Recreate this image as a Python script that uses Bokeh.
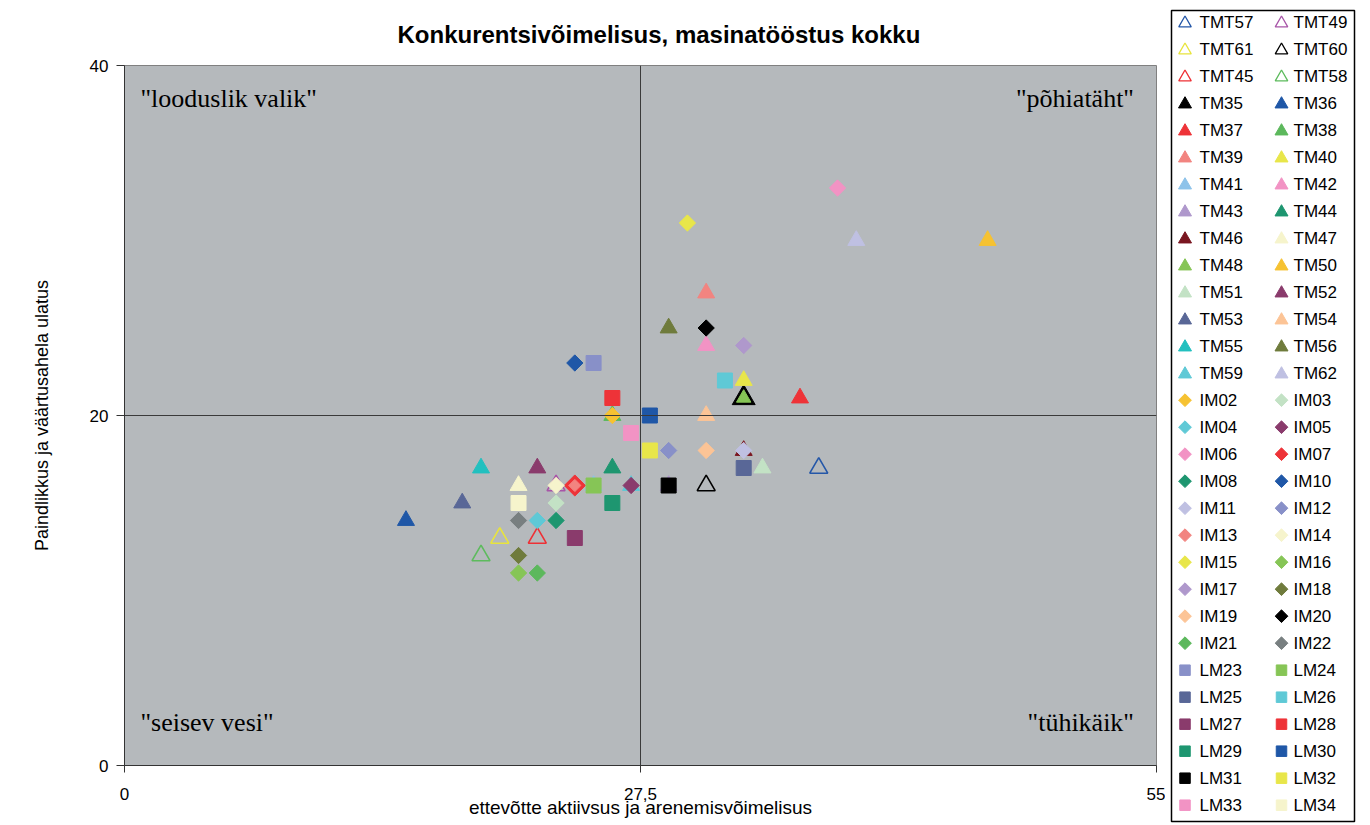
import math
import numpy as np
from bokeh.plotting import figure
from bokeh.layouts import row
from bokeh.models import Range1d, FixedTicker, Span, Label
from bokeh.core.properties import value
from bokeh.embed import file_html
from bokeh.resources import INLINE

# ---------------- data ----------------
title_text = "Konkurentsivõimelisus, masinatööstus kokku"
x_title = "ettevõtte aktiivsus ja arenemisvõimelisus"
y_title = "Paindlikkus ja väärtusahela ulatus"

series_names = ["TMT57", "TMT49", "TMT61", "TMT60", "TMT45", "TMT58",
                "TM35", "TM36", "TM37", "TM38", "TM39", "TM40", "TM41", "TM42", "TM43", "TM44",
                "TM46", "TM47", "TM48", "TM50", "TM51", "TM52", "TM53", "TM54", "TM55", "TM56",
                "TM59", "TM62",
                "IM02", "IM03", "IM04", "IM05", "IM06", "IM07", "IM08", "IM10", "IM11", "IM12",
                "IM13", "IM14", "IM15", "IM16", "IM17", "IM18", "IM19", "IM20", "IM21", "IM22",
                "LM23", "LM24", "LM25", "LM26", "LM27", "LM28", "LM29", "LM30", "LM31", "LM32",
                "LM33", "LM34"]

x_values = [37, 23, 20, 31, 22, 19,
            33, 15, 36, 26, 31, 33, 25, 31, 29, 26,
            33, 21, 33, 46, 34, 22, 18, 31, 19, 29,
            27, 39,
            26, 23, 22, 27, 38, 24, 23, 24, 33, 29,
            24, 23, 30, 21, 33, 21, 31, 31, 22, 21,
            25, 25, 33, 32, 24, 26, 26, 28, 29, 28,
            27, 21]

y_values = [17, 16, 13, 16, 13, 12,
            21, 14, 21, 20, 27, 22, 16, 24, 16, 17,
            18, 16, 21, 30, 17, 17, 15, 20, 17, 25,
            16, 30,
            20, 15, 14, 16, 33, 16, 14, 23, 18, 18,
            16, 16, 31, 11, 24, 12, 18, 25, 11, 14,
            23, 16, 17, 22, 13, 21, 15, 20, 16, 18,
            19, 15]

series_colors = ["#2457A8", "#A855A8", "#E8E43C", "#000000", "#EE3035", "#5DBB5D",
                 "#000000", "#1F57A7", "#EE3338", "#5CB85C", "#F28480", "#E8E64A", "#8EC3EA",
                 "#F293C4", "#AF98CC", "#1E9670",
                 "#7A1620", "#F6F4CC", "#86C556", "#F6C232", "#C3E2C5", "#8A3B6C", "#596797",
                 "#FCC496", "#22C0BF", "#6F7B3C",
                 "#5FC9D6", "#BFC0E2",
                 "#F6C232", "#C3E2C5", "#5FC9D6", "#8A3B6C", "#F293C4", "#EE3338", "#1E9670",
                 "#1F57A7", "#BFC0E2", "#8890C8",
                 "#F28480", "#F6F4CC", "#E8E64A", "#86C556", "#AF98CC", "#6F7B3C", "#FCC496",
                 "#000000", "#5CB85C", "#787F80",
                 "#8890C8", "#86C556", "#596797", "#5FC9D6", "#8A3B6C", "#EE3338", "#1E9670",
                 "#1F57A7", "#000000", "#E8E64A",
                 "#F293C4", "#F6F4CC"]

x_ticks = [0, 27.5, 55]
x_tick_labels = ["0", "27,5", "55"]
y_ticks = [0, 20, 40]
x_split = 27.5
y_split = 20

quadrant_labels = ['"looduslik valik"', '"põhiatäht"', '"seisev vesi"', '"tühikäik"']

# ---------------- styling ----------------
SANS = "Liberation Sans"
SERIF = "Liberation Serif"
PLOT_BG = "#B5B9BC"
MAIN_W, H = 1165, 825
LEG_W = 1370 - MAIN_W


def kind_of(name):
    if name.startswith("TMT"):
        return "open_tri"
    if name.startswith("TM"):
        return "tri"
    if name.startswith("IM"):
        return "diamond"
    return "square"


p = figure(width=MAIN_W, height=H, x_range=Range1d(0, 55), y_range=Range1d(0, 40),
           output_backend="svg", toolbar_location=None,
           min_border_left=124, min_border_right=9, min_border_top=65, min_border_bottom=60)
p.background_fill_color = PLOT_BG
p.border_fill_color = "white"
p.outline_line_color = "#808080"
p.outline_line_width = 1
p.xgrid.visible = False
p.ygrid.visible = False

# title
p.title.text = title_text
p.title.align = "left"
p.title.offset = 273
p.title.text_font = SANS
p.title.text_font_size = "24px"
p.title.text_font_style = "bold"
p.title.text_color = "black"
p.title.standoff = 35

for ax in (p.xaxis[0], p.yaxis[0]):
    ax.axis_line_color = "#333333"
    ax.axis_line_width = 1
    ax.major_tick_line_color = "#333333"
    ax.major_tick_in = 0
    ax.minor_tick_line_color = None
    ax.major_label_text_font = SANS
    ax.major_label_text_font_size = "17px"
    ax.major_label_text_color = "black"
    ax.axis_label_text_font = SANS
    ax.axis_label_text_font_size = "18px"
    ax.axis_label_text_font_style = "normal"
    ax.axis_label_text_color = "black"

p.xaxis.ticker = FixedTicker(ticks=x_ticks)
p.xaxis.major_label_overrides = {t: s for t, s in zip(x_ticks, x_tick_labels)}
p.xaxis.major_tick_out = 7
p.xaxis.major_label_standoff = 15
p.xaxis.axis_label = x_title
p.xaxis.axis_label_text_font_size = "19px"
p.xaxis.axis_label_standoff = -6

p.yaxis.ticker = FixedTicker(ticks=y_ticks)
p.yaxis.major_tick_out = 8
p.yaxis.major_label_standoff = 8
p.yaxis.axis_label = y_title
p.yaxis.axis_label_standoff = 35

# quadrant dividers
p.add_layout(Span(location=x_split, dimension="height", line_color="#3A3A3A", line_width=1))
p.add_layout(Span(location=y_split, dimension="width", line_color="#3A3A3A", line_width=1))

# quadrant texts
q_style = dict(text_font=SERIF, text_font_size="26px", text_color="black",
               text_baseline="middle")
p.add_layout(Label(x=0.85, y=38.1, text=quadrant_labels[0], text_align="left", **q_style))
p.add_layout(Label(x=53.8, y=38.1, text=quadrant_labels[1], text_align="right", **q_style))
p.add_layout(Label(x=0.85, y=2.45, text=quadrant_labels[2], text_align="left", **q_style))
p.add_layout(Label(x=53.8, y=2.45, text=quadrant_labels[3], text_align="right", **q_style))

# ---------------- markers (plot) ----------------
big = {"TM35": 1.35, "IM07": 1.3}
small = {"TM48": 0.85, "IM13": 0.75}

for name, xv, yv, col in zip(series_names, x_values, y_values, series_colors):
    scale = big.get(name, small.get(name, 1.0))
    k = kind_of(name)
    if k == "open_tri":
        p.scatter(x=[xv], y=[yv], marker="triangle", size=18 * scale,
                  fill_color=None, line_color=col, line_width=1.6)
    elif k == "tri":
        p.scatter(x=[xv], y=[yv], marker="triangle", size=17 * scale,
                  fill_color=col, line_color=col, line_width=1)
    elif k == "diamond":
        p.scatter(x=[xv], y=[yv], marker="square", angle=math.pi / 4, size=11.5 * scale,
                  fill_color=col, line_color=col, line_width=1)
    else:
        p.scatter(x=[xv], y=[yv], marker="square", size=15 * scale,
                  fill_color=col, line_color=col, line_width=1)

# ---------------- legend panel (2 columns, row-major) ----------------
leg = figure(width=LEG_W, height=H, x_range=Range1d(0, LEG_W), y_range=Range1d(H, 0),
             output_backend="svg", toolbar_location=None, min_border=0,
             x_axis_location=None, y_axis_location=None)
leg.xgrid.visible = False
leg.ygrid.visible = False
leg.outline_line_color = None
leg.background_fill_color = "white"
leg.border_fill_color = "white"
try:
    p.frame_align = False
    leg.frame_align = False
except Exception:
    pass

LEG_LEFT, LEG_RIGHT, LEG_TOP, LEG_BOTTOM = 6, 189, 10, 821
ROW0, PITCH = 21.7, 27.0
KEY_X = [19.5, 116.0]
LABEL_X = [34.0, 128.0]

leg.quad(left=[LEG_LEFT], right=[LEG_RIGHT], top=[LEG_TOP], bottom=[LEG_BOTTOM],
         fill_color="white", line_color="black", line_width=1.5)

idx = np.arange(len(series_names))
rows = idx // 2
cols = idx % 2
key_x = np.array(KEY_X)[cols]
key_y = ROW0 + PITCH * rows
lab_x = np.array(LABEL_X)[cols]

for i, (name, col) in enumerate(zip(series_names, series_colors)):
    k = kind_of(name)
    kx, ky = [key_x[i]], [key_y[i]]
    if k == "open_tri":
        leg.scatter(x=kx, y=[ky[0] + 1], marker="triangle", size=12.5, fill_color=None,
                    line_color=col, line_width=1.3)
    elif k == "tri":
        leg.scatter(x=kx, y=[ky[0] + 1], marker="triangle", size=13, fill_color=col,
                    line_color=col)
    elif k == "diamond":
        leg.scatter(x=kx, y=ky, marker="square", angle=math.pi / 4, size=9, fill_color=col,
                    line_color=col)
    else:
        leg.scatter(x=kx, y=ky, marker="square", size=10.5, fill_color=col, line_color=col)

leg.text(x=lab_x, y=key_y, text=series_names, text_font=value(SANS), text_font_size="17px",
         text_color="black", text_align="left", text_baseline="middle")

layout = row(p, leg, spacing=0)
open("out.html", "w").write(file_html(layout, INLINE))
